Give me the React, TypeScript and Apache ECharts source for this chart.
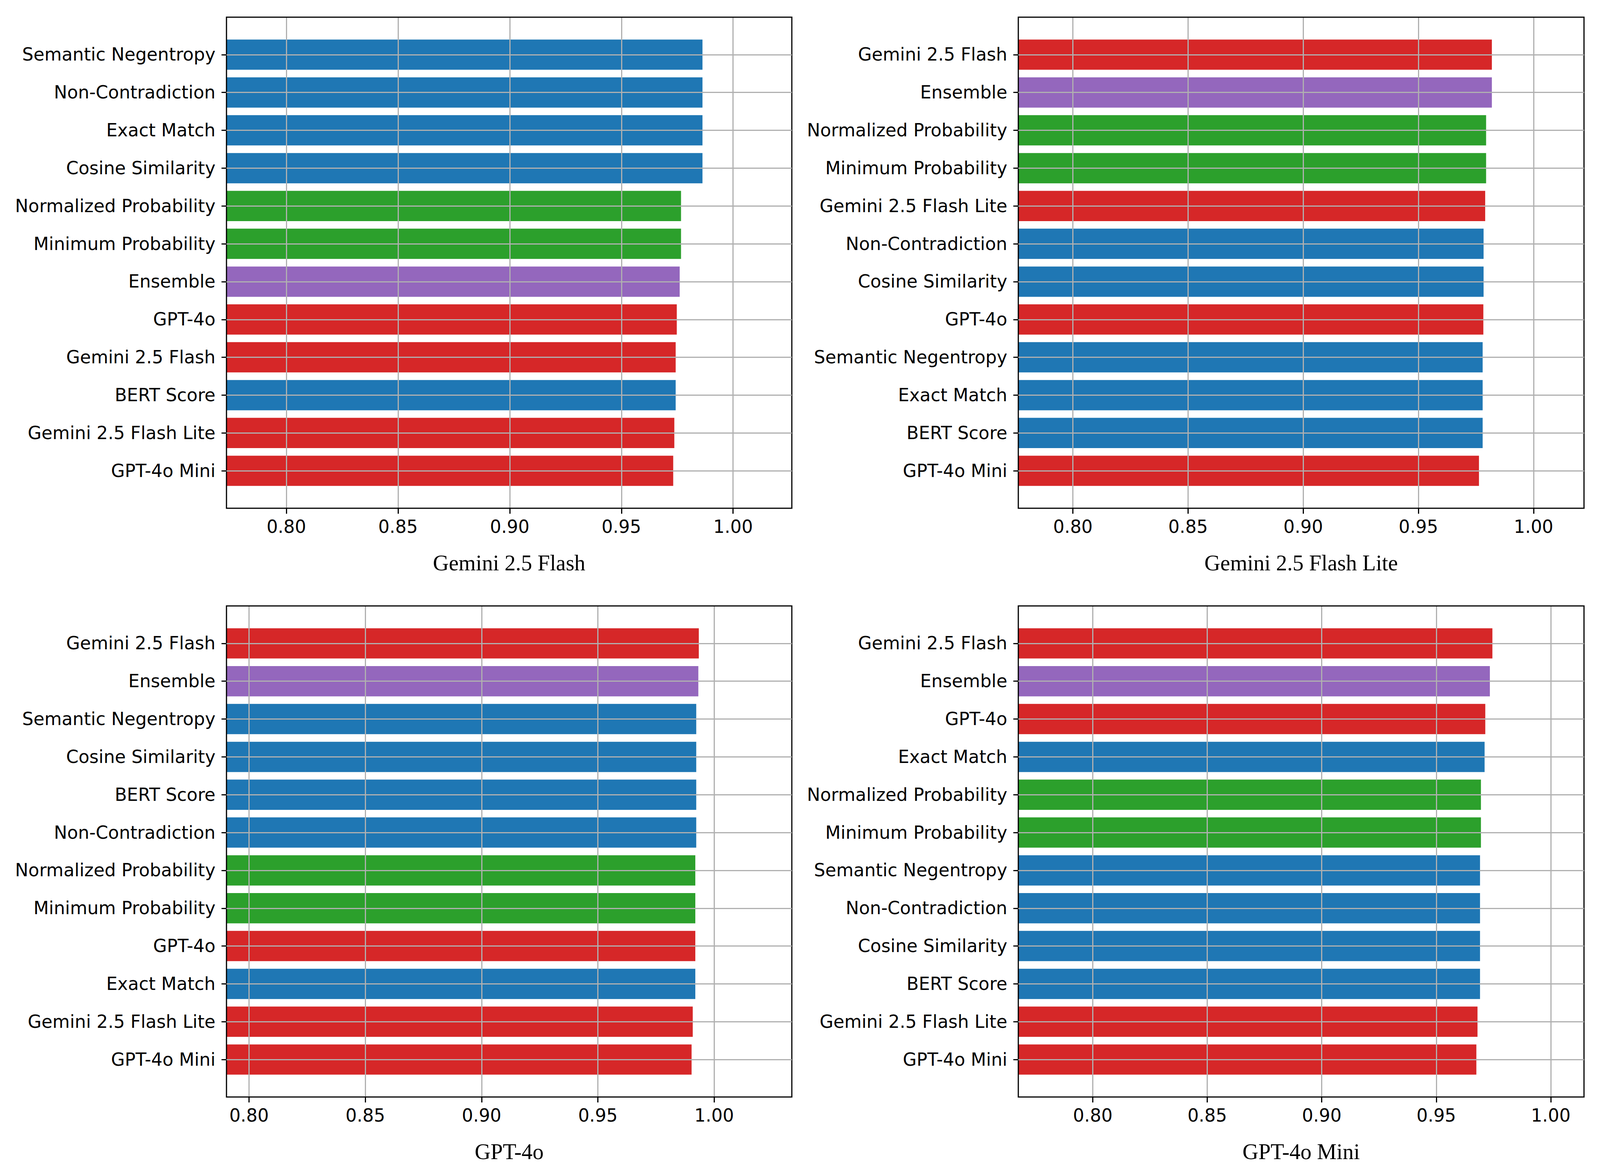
import React, { useEffect, useRef } from 'react';
import * as echarts from 'echarts';

// ---------- data ----------
const PANEL_TITLES = ['Gemini 2.5 Flash', 'Gemini 2.5 Flash Lite', 'GPT-4o', 'GPT-4o Mini'];

const LABELS_FLASH = ['Semantic Negentropy', 'Non-Contradiction', 'Exact Match', 'Cosine Similarity', 'Normalized Probability', 'Minimum Probability', 'Ensemble', 'GPT-4o', 'Gemini 2.5 Flash', 'BERT Score', 'Gemini 2.5 Flash Lite', 'GPT-4o Mini'];
const VALUES_FLASH = [0.9863, 0.9863, 0.9863, 0.9863, 0.9767, 0.9767, 0.9761, 0.9748, 0.9743, 0.9743, 0.9737, 0.9732];

const LABELS_FLASH_LITE = ['Gemini 2.5 Flash', 'Ensemble', 'Normalized Probability', 'Minimum Probability', 'Gemini 2.5 Flash Lite', 'Non-Contradiction', 'Cosine Similarity', 'GPT-4o', 'Semantic Negentropy', 'Exact Match', 'BERT Score', 'GPT-4o Mini'];
const VALUES_FLASH_LITE = [0.9819, 0.9819, 0.9794, 0.9794, 0.9790, 0.9783, 0.9783, 0.9782, 0.9779, 0.9779, 0.9779, 0.9763];

const LABELS_GPT4O = ['Gemini 2.5 Flash', 'Ensemble', 'Semantic Negentropy', 'Cosine Similarity', 'BERT Score', 'Non-Contradiction', 'Normalized Probability', 'Minimum Probability', 'GPT-4o', 'Exact Match', 'Gemini 2.5 Flash Lite', 'GPT-4o Mini'];
const VALUES_GPT4O = [0.9934, 0.9932, 0.9923, 0.9923, 0.9923, 0.9923, 0.9919, 0.9919, 0.9919, 0.9919, 0.9908, 0.9903];

const LABELS_GPT4O_MINI = ['Gemini 2.5 Flash', 'Ensemble', 'GPT-4o', 'Exact Match', 'Normalized Probability', 'Minimum Probability', 'Semantic Negentropy', 'Non-Contradiction', 'Cosine Similarity', 'BERT Score', 'Gemini 2.5 Flash Lite', 'GPT-4o Mini'];
const VALUES_GPT4O_MINI = [0.9745, 0.9734, 0.9714, 0.9711, 0.9695, 0.9695, 0.9691, 0.9691, 0.9691, 0.9691, 0.9680, 0.9675];

const X_TICKS = [0.8, 0.85, 0.9, 0.95, 1.0];

const BLACK_BOX = ['Semantic Negentropy', 'Non-Contradiction', 'Exact Match', 'Cosine Similarity', 'BERT Score'];
const WHITE_BOX = ['Normalized Probability', 'Minimum Probability'];
const JUDGES = ['GPT-4o', 'Gemini 2.5 Flash', 'Gemini 2.5 Flash Lite', 'GPT-4o Mini'];
const ENSEMBLE = ['Ensemble'];

// ---------- styles ----------
const C_BLUE = '#1f77b4';
const C_GREEN = '#2ca02c';
const C_RED = '#d62728';
const C_PURPLE = '#9467bd';
const GRID_COLOR = '#b0b0b0';

function colorFor(name: string): string {
  if (BLACK_BOX.includes(name)) return C_BLUE;
  if (WHITE_BOX.includes(name)) return C_GREEN;
  if (JUDGES.includes(name)) return C_RED;
  if (ENSEMBLE.includes(name)) return C_PURPLE;
  return '#777';
}

const PANELS = [
  { labels: LABELS_FLASH, values: VALUES_FLASH },
  { labels: LABELS_FLASH_LITE, values: VALUES_FLASH_LITE },
  { labels: LABELS_GPT4O, values: VALUES_GPT4O },
  { labels: LABELS_GPT4O_MINI, values: VALUES_GPT4O_MINI },
];

// layout in a 4500 x 3000 reference frame, scaled to the viewport
const FIG_W = 4500;
const FIG_H = 3000;
const COL_LEFT = [637, 2864];
const COL_WIDTH = [1590, 1591];
const ROW_TOP = [44, 1551];
const ROW_HEIGHT = 1257;

export default function App() {
  const ref = useRef<HTMLDivElement>(null);

  useEffect(() => {
    const el = ref.current;
    if (!el) return;
    const chart = echarts.init(el, null, { renderer: 'svg' });
    const cw = el.clientWidth || FIG_W;
    const ch = el.clientHeight || FIG_H;
    const kx = Math.min(cw / FIG_W, 1);
    const ky = Math.min(ch / FIG_H, 1);
    const kf = kx;
    const LW = 3.3 * Math.min(kx, ky);

    const grid: any[] = [];
    const xAxis: any[] = [];
    const yAxis: any[] = [];
    const series: any[] = [];

    PANELS.forEach((p, i) => {
      const col = i % 2;
      const row = Math.floor(i / 2);
      const L = COL_LEFT[col] * kx;
      const W = COL_WIDTH[col] * kx;
      const T = ROW_TOP[row] * ky;
      const H = ROW_HEIGHT * ky;
      const n = p.labels.length;
      const span = (n - 0.2) * 1.1; // matplotlib barh extent with 5% margins
      const s = H / span;
      const inset = ((span - n) / 2) * s;
      const minV = Math.min(...p.values) - 0.2;
      const maxV = Math.max(...p.values) + 0.04;

      grid.push({
        left: L, top: T, width: W, height: H,
        show: true, borderColor: '#000', borderWidth: LW, backgroundColor: 'transparent', z: 4,
      });
      grid.push({ left: L, top: T + inset, width: W, height: H - 2 * inset, show: false });

      xAxis.push({
        type: 'value', gridIndex: 2 * i, min: minV, max: maxV, z: 3,
        axisLine: { show: false, onZero: false },
        axisTick: { show: true, length: 14 * ky, lineStyle: { color: '#000', width: LW }, customValues: X_TICKS },
        axisLabel: {
          show: true, customValues: X_TICKS,
          formatter: (v: number) => v.toFixed(2),
          fontSize: 50 * kf, fontFamily: 'DejaVu Sans', color: '#000', margin: 24 * ky,
        },
        splitLine: { show: true, lineStyle: { color: GRID_COLOR, width: LW } },
        name: PANEL_TITLES[i], nameLocation: 'middle', nameGap: 112 * ky,
        nameTextStyle: { fontFamily: 'Liberation Serif', fontSize: 62 * kf, color: '#000' },
      });
      xAxis.push({ type: 'value', gridIndex: 2 * i + 1, min: minV, max: maxV, show: false });

      yAxis.push({ type: 'value', gridIndex: 2 * i, min: 0, max: 1, show: false });
      yAxis.push({
        type: 'category', gridIndex: 2 * i + 1, data: p.labels, inverse: true,
        axisLine: { show: false },
        axisTick: { show: true, alignWithLabel: true, length: 14 * kx, lineStyle: { color: '#000', width: LW } },
        axisLabel: { interval: 0, fontSize: 50 * kf, fontFamily: 'DejaVu Sans', color: '#000', margin: 31 * kx },
        splitLine: { show: false },
      });

      series.push({
        type: 'bar', xAxisIndex: 2 * i + 1, yAxisIndex: 2 * i + 1,
        barWidth: 0.8 * s, clip: true, silent: true,
        data: p.values.map((v, j) => ({ value: v, itemStyle: { color: colorFor(p.labels[j]) } })),
        markLine: {
          silent: true, symbol: 'none', label: { show: false },
          lineStyle: { color: GRID_COLOR, width: LW, type: 'solid' },
          emphasis: { disabled: true },
          data: p.labels.map((l) => ({ yAxis: l })),
        },
      });
    });

    chart.setOption({
      animation: false,
      backgroundColor: '#ffffff',
      textStyle: { fontFamily: 'DejaVu Sans' },
      grid, xAxis, yAxis, series,
    });

    return () => chart.dispose();
  }, []);

  return (
    <div
      ref={ref}
      style={{ position: 'fixed', left: 0, top: 0, width: '100vw', height: '100vh', background: '#fff' }}
    />
  );
}
